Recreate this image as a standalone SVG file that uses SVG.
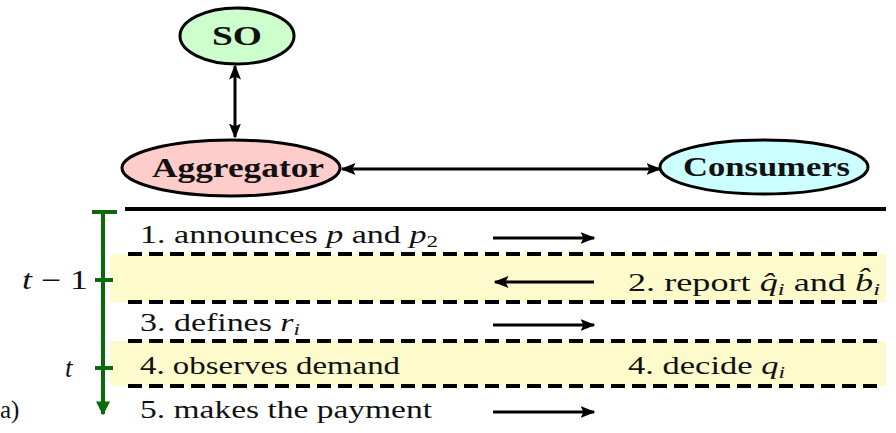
<svg xmlns="http://www.w3.org/2000/svg" width="896" height="433" viewBox="0 0 896 433">
<defs>
<style>
text{font-family:"Liberation Serif","DejaVu Serif",serif;fill:#111;}
.lbl{font-size:25px;}
.node{font-size:28px;font-weight:bold;}
.it{font-style:italic;}
.node-shape{stroke:#000;stroke-width:3;}
.conn{stroke:#000;stroke-width:3;fill:none;}
.dash{stroke:#000;stroke-width:4;stroke-dasharray:14 7;fill:none;}
.band{fill:#fdfbcc;}
.green{stroke:#0b6b0b;stroke-width:4;fill:none;}
</style>
<marker id="ah" viewBox="0 0 10 10" refX="9" refY="5" markerWidth="5" markerHeight="5" orient="auto-start-reverse">
<path d="M0,1 L10,5 L0,9 L2,5 z" fill="#000"/>
</marker>
<marker id="gh" viewBox="0 0 10 10" refX="9" refY="5" markerWidth="3.5" markerHeight="3.5" orient="auto">
<path d="M0,0 L10,5 L0,10 z" fill="#0b6b0b"/>
</marker>
</defs>
<rect width="896" height="433" fill="#fff"/>

<g id="bands">
<rect class="band" x="110" y="254" width="776" height="48"/>
<rect class="band" x="110" y="341" width="776" height="45"/>
</g>

<g id="node-so">
<ellipse class="node-shape" cx="237" cy="36" rx="57" ry="28" fill="#ccffcc"/>
<text class="node" x="212" y="45" textLength="50" lengthAdjust="spacingAndGlyphs">SO</text>
</g>
<g id="node-aggregator">
<ellipse class="node-shape" cx="231" cy="168" rx="109" ry="28" fill="#ffcccc"/>
<text class="node" x="152" y="177" textLength="172" lengthAdjust="spacingAndGlyphs">Aggregator</text>
</g>
<g id="node-consumers">
<ellipse class="node-shape" cx="764" cy="167" rx="104" ry="27" fill="#ccffff"/>
<text class="node" x="683" y="176" textLength="167" lengthAdjust="spacingAndGlyphs">Consumers</text>
</g>

<g id="connectors">
<line class="conn" x1="235" y1="66" x2="235" y2="137" stroke-width="3.5" marker-start="url(#ah)" marker-end="url(#ah)"/>
<line class="conn" x1="342" y1="169" x2="660" y2="169" marker-start="url(#ah)" marker-end="url(#ah)"/>
</g>

<g id="timeline">
<line x1="125" y1="209" x2="886" y2="209" stroke="#000" stroke-width="4"/>
<line class="dash" x1="128" y1="254" x2="882" y2="254"/>
<line class="dash" x1="128" y1="302" x2="882" y2="302"/>
<line class="dash" x1="128" y1="341" x2="882" y2="341"/>
<line class="dash" x1="128" y1="386" x2="882" y2="386"/>
<line class="green" x1="103" y1="212" x2="103" y2="414" marker-end="url(#gh)"/>
<line class="green" x1="92" y1="212" x2="117" y2="212"/>
<line class="green" x1="95" y1="280" x2="113" y2="280"/>
<line class="green" x1="95" y1="368" x2="113" y2="368"/>
<text x="22" y="289" font-size="27" textLength="66" lengthAdjust="spacingAndGlyphs"><tspan class="it">t</tspan> − 1</text>
<text class="it" x="65" y="377" font-size="27">t</text>
<text class="lbl" x="0" y="418" font-size="20">a)</text>
</g>

<g id="steps">
<text class="lbl" x="140" y="243" textLength="298" lengthAdjust="spacingAndGlyphs">1. announces <tspan class="it">p</tspan> and <tspan class="it">p</tspan><tspan font-size="17" dy="4">2</tspan></text>
<line class="conn" x1="493" y1="238" x2="594" y2="238" marker-end="url(#ah)"/>
<line class="conn" x1="594" y1="282" x2="495" y2="282" stroke-width="4" marker-end="url(#ah)"/>
<text class="lbl" x="628" y="291" textLength="252" lengthAdjust="spacingAndGlyphs">2. report <tspan class="it">q̂</tspan><tspan class="it" font-size="17" dy="4">i</tspan><tspan dy="-4"> and </tspan><tspan class="it">b̂</tspan><tspan class="it" font-size="17" dy="4">i</tspan></text>
<text class="lbl" x="140" y="331" textLength="160" lengthAdjust="spacingAndGlyphs">3. defines <tspan class="it">r</tspan><tspan class="it" font-size="17" dy="4">i</tspan></text>
<line class="conn" x1="493" y1="325" x2="594" y2="325" marker-end="url(#ah)"/>
<text class="lbl" x="140" y="374" textLength="260" lengthAdjust="spacingAndGlyphs">4. observes demand</text>
<text class="lbl" x="628" y="374" textLength="157" lengthAdjust="spacingAndGlyphs">4. decide <tspan class="it">q</tspan><tspan class="it" font-size="17" dy="4">i</tspan></text>
<text class="lbl" x="140" y="418" textLength="292" lengthAdjust="spacingAndGlyphs">5. makes the payment</text>
<line class="conn" x1="493" y1="412" x2="594" y2="412" marker-end="url(#ah)"/>
</g>
</svg>
